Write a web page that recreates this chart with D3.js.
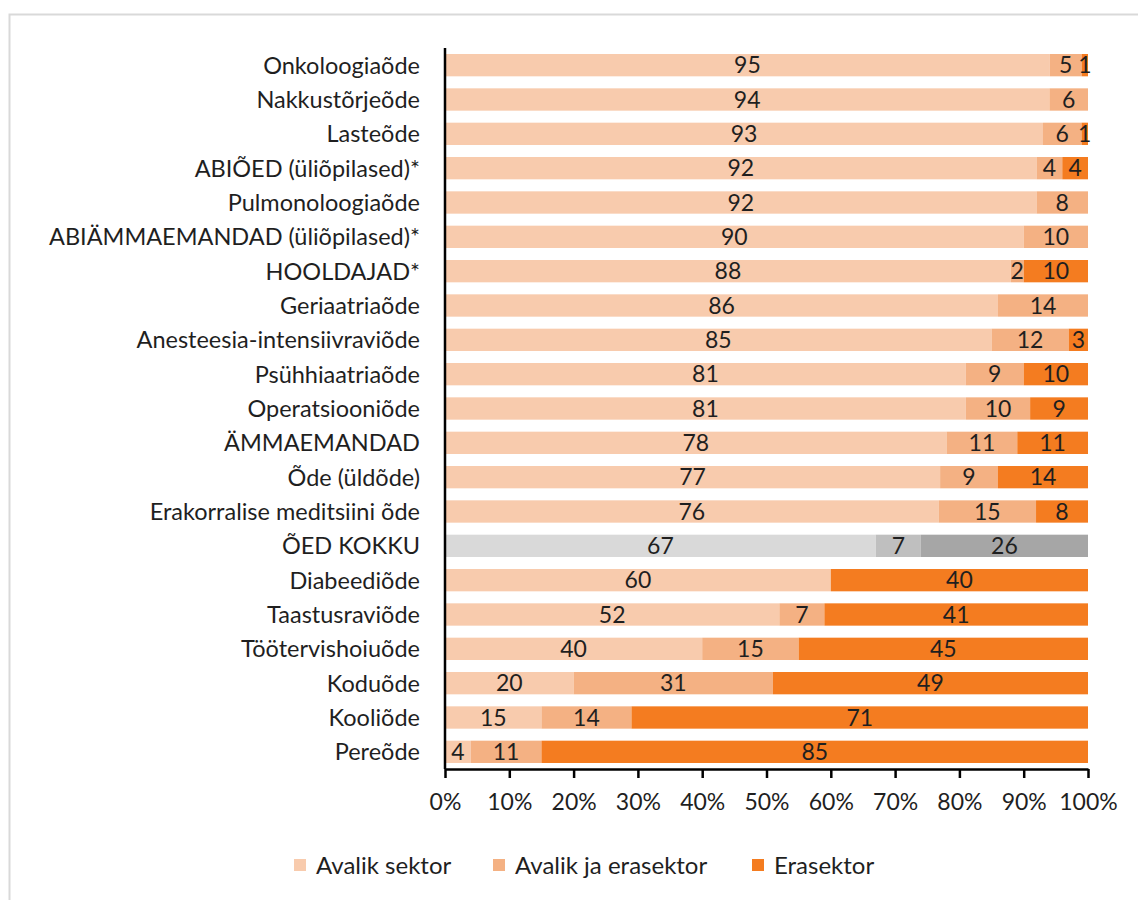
<!DOCTYPE html>
<html>
<head>
<meta charset="utf-8">
<script src="https://cdn.jsdelivr.net/npm/d3@7"></script>
<style>
  html, body { margin: 0; padding: 0; background: #fff; }
  svg { display: block; font-family: Lato, "Open Sans", sans-serif; }
</style>
</head>
<body>
<svg id="chart" width="1138" height="900"></svg>
<script>
const categories = [
  "Onkoloogiaõde", "Nakkustõrjeõde", "Lasteõde", "ABIÕED (üliõpilased)*",
  "Pulmonoloogiaõde", "ABIÄMMAEMANDAD (üliõpilased)*", "HOOLDAJAD*", "Geriaatriaõde",
  "Anesteesia-intensiivraviõde", "Psühhiaatriaõde", "Operatsiooniõde", "ÄMMAEMANDAD",
  "Õde (üldõde)", "Erakorralise meditsiini õde", "ÕED KOKKU", "Diabeediõde",
  "Taastusraviõde", "Töötervishoiuõde", "Koduõde", "Kooliõde", "Pereõde"
];
const avalik     = [95, 94, 93, 92, 92, 90, 88, 86, 85, 81, 81, 78, 77, 76, 67, 60, 52, 40, 20, 15, 4];
const avalikEra  = [5, 6, 6, 4, 8, 10, 2, 14, 12, 9, 10, 11, 9, 15, 7, 0, 7, 15, 31, 14, 11];
const erasektor  = [1, 0, 1, 4, 0, 0, 10, 0, 3, 10, 9, 11, 14, 8, 26, 40, 41, 45, 49, 71, 85];
const seriesNames = ["Avalik sektor", "Avalik ja erasektor", "Erasektor"];
const tickValues = [0, 0.1, 0.2, 0.3, 0.4, 0.5, 0.6, 0.7, 0.8, 0.9, 1.0];
const totalRow = "ÕED KOKKU";

const colors = ["#F8CBAD", "#F4B183", "#F47C20"];
const greyColors = ["#D9D9D9", "#BFBFBF", "#A6A6A6"];

const svg = d3.select("#chart");

// outer frame
svg.append("rect")
  .attr("x", 9.5).attr("y", 14.5)
  .attr("width", 1200).attr("height", 1000)
  .attr("fill", "none").attr("stroke", "#D9D9D9").attr("stroke-width", 2);

const rows = categories.map((c, i) => ({
  cat: c, s0: avalik[i], s1: avalikEra[i], s2: erasektor[i]
}));
const keys = ["s0", "s1", "s2"];
const stacked = d3.stack().keys(keys).offset(d3.stackOffsetExpand)(rows);

const x = d3.scaleLinear().domain([0, 1]).range([445, 1088]);
const y = d3.scaleBand().domain(categories).range([48, 769]).paddingInner(0.35).paddingOuter(0.175);

const g = svg.append("g");
stacked.forEach((layer, li) => {
  g.selectAll(".seg" + li)
    .data(layer)
    .join("rect")
    .attr("x", d => x(d[0]))
    .attr("y", d => y(d.data.cat))
    .attr("width", d => Math.max(0, x(d[1]) - x(d[0])))
    .attr("height", y.bandwidth())
    .attr("fill", d => d.data.cat === totalRow ? greyColors[li] : colors[li]);

  g.selectAll(".lab" + li)
    .data(layer.filter(d => d.data[keys[li]] > 0))
    .join("text")
    .attr("x", d => (x(d[0]) + x(d[1])) / 2)
    .attr("y", d => y(d.data.cat) + y.bandwidth() / 2)
    .attr("dy", "0.36em")
    .attr("text-anchor", "middle")
    .attr("font-size", 23)
    .attr("fill", "#1f1f1f")
    .text(d => d.data[keys[li]]);
});

// category labels
svg.append("g").selectAll("text")
  .data(categories)
  .join("text")
  .attr("x", 420)
  .attr("y", d => y(d) + y.bandwidth() / 2)
  .attr("dy", "0.36em")
  .attr("text-anchor", "end")
  .attr("font-size", 23.5)
  .attr("fill", "#1f1f1f")
  .text(d => d);

// vertical axis line
svg.append("line")
  .attr("x1", 445).attr("x2", 445)
  .attr("y1", 48).attr("y2", 769)
  .attr("stroke", "#000").attr("stroke-width", 2.5);

// x axis
const xAxis = d3.axisBottom(x)
  .tickValues(tickValues)
  .tickFormat(d3.format(".0%"))
  .tickSize(9)
  .tickSizeOuter(0)
  .tickPadding(16);
const ax = svg.append("g").attr("transform", "translate(0,769)").call(xAxis);
ax.select(".domain").attr("stroke", "#000").attr("stroke-width", 2.5);
ax.selectAll(".tick line").attr("stroke", "#000").attr("stroke-width", 2.5);
ax.selectAll(".tick text")
  .attr("font-family", "Lato, 'Open Sans', sans-serif")
  .attr("font-size", 23).attr("fill", "#1f1f1f");

// legend
const legendX = [294, 493, 752];
const leg = svg.append("g").selectAll("g")
  .data(seriesNames)
  .join("g")
  .attr("transform", (d, i) => `translate(${legendX[i]},865)`);
leg.append("rect")
  .attr("x", 0).attr("y", -6).attr("width", 12).attr("height", 12)
  .attr("fill", (d, i) => colors[i]);
leg.append("text")
  .attr("x", 22).attr("y", 0).attr("dy", "0.36em")
  .attr("font-size", 24).attr("fill", "#1f1f1f")
  .text(d => d);
</script>
</body>
</html>
